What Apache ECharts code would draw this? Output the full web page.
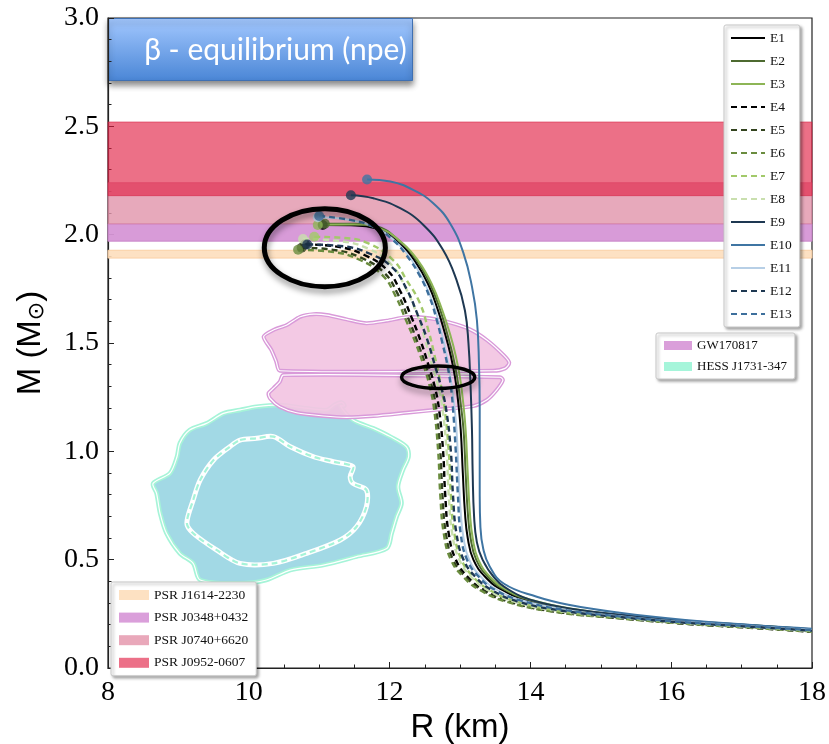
<!DOCTYPE html>
<html><head><meta charset="utf-8">
<script src="https://cdn.jsdelivr.net/npm/echarts@6/dist/echarts.min.js"></script>
<style>html,body{margin:0;padding:0;background:#fff}#c{width:829px;height:744px}</style>
</head><body><div id="c"></div>
<script>
// ---------- Mass-radius curves [R (km), M (Msun)] ----------
const E1 = [[11.05,2.045],[11.45,2.043],[11.8,2.03],[12.13,1.962],[12.36,1.878],[12.55,1.77],[12.69,1.648],[12.79,1.54],[12.87,1.44],[12.93,1.34],[12.97,1.24],[13.01,1.10],[13.04,0.90],[13.07,0.72],[13.11,0.60],[13.19,0.50],[13.36,0.42],[13.6,0.36],[13.97,0.31],[14.6,0.268],[15.3,0.24],[16.2,0.214],[17.2,0.193],[18.0,0.176]];
const E2 = [[11.08,2.05],[11.5,2.05],[11.8,2.04],[12.15,1.968],[12.38,1.883],[12.57,1.776],[12.72,1.652],[12.82,1.54],[12.9,1.44],[12.96,1.34],[13.0,1.245],[13.05,1.10],[13.08,0.90],[13.11,0.72],[13.15,0.60],[13.23,0.50],[13.4,0.42],[13.64,0.36],[14.0,0.312],[14.62,0.27],[15.3,0.242],[16.2,0.216],[17.2,0.195],[18.0,0.177]];
const E3 = [[10.98,2.045],[11.5,2.047],[11.85,2.03],[12.18,1.962],[12.41,1.878],[12.6,1.772],[12.75,1.65],[12.86,1.54],[12.94,1.44],[13.0,1.34],[13.04,1.24],[13.08,1.10],[13.11,0.90],[13.14,0.72],[13.18,0.60],[13.26,0.50],[13.43,0.42],[13.67,0.36],[14.03,0.313],[14.64,0.271],[15.3,0.243],[16.2,0.217],[17.2,0.196],[18.0,0.178]];
const E4 = [[10.80,1.955],[11.25,1.945],[11.65,1.905],[11.97,1.835],[12.15,1.74],[12.31,1.62],[12.44,1.51],[12.55,1.40],[12.64,1.30],[12.70,1.20],[12.76,1.00],[12.79,0.80],[12.84,0.62],[12.94,0.50],[13.11,0.42],[13.34,0.36],[13.72,0.306],[14.38,0.26],[15.3,0.23],[16.2,0.205],[17.2,0.185],[18.0,0.168]];
const E5 = [[10.75,1.94],[11.2,1.93],[11.6,1.893],[11.93,1.822],[12.11,1.73],[12.27,1.61],[12.40,1.50],[12.51,1.40],[12.60,1.30],[12.66,1.20],[12.72,1.00],[12.75,0.80],[12.80,0.62],[12.90,0.50],[13.08,0.42],[13.31,0.36],[13.69,0.306],[14.35,0.26],[15.3,0.229],[16.2,0.204],[17.2,0.184],[18.0,0.167]];
const E6 = [[10.70,1.93],[11.15,1.922],[11.58,1.883],[11.90,1.812],[12.08,1.72],[12.24,1.60],[12.37,1.50],[12.48,1.40],[12.57,1.30],[12.63,1.20],[12.69,1.00],[12.72,0.80],[12.77,0.62],[12.87,0.50],[13.05,0.42],[13.28,0.36],[13.66,0.306],[14.32,0.26],[15.27,0.229],[16.2,0.205],[17.2,0.185],[18.0,0.168]];
const E7 = [[10.93,1.99],[11.35,1.985],[11.7,1.96],[12.05,1.883],[12.24,1.791],[12.43,1.684],[12.55,1.56],[12.64,1.44],[12.72,1.32],[12.78,1.20],[12.84,1.00],[12.87,0.80],[12.92,0.62],[13.02,0.50],[13.19,0.42],[13.42,0.36],[13.8,0.306],[14.45,0.262],[15.3,0.233],[16.2,0.208],[17.2,0.188],[18.0,0.171]];
const E8 = [[10.77,1.98],[11.25,1.972],[11.7,1.935],[12.03,1.86],[12.22,1.76],[12.38,1.64],[12.50,1.52],[12.60,1.40],[12.69,1.30],[12.75,1.20],[12.81,1.00],[12.84,0.80],[12.89,0.62],[12.99,0.50],[13.16,0.42],[13.39,0.36],[13.77,0.306],[14.42,0.262],[15.3,0.232],[16.2,0.207],[17.2,0.187],[18.0,0.17]];
const E9 = [[11.45,2.182],[11.77,2.168],[12.15,2.122],[12.48,2.045],[12.76,1.929],[12.95,1.791],[13.07,1.65],[13.12,1.50],[13.15,1.30],[13.17,1.10],[13.18,0.90],[13.2,0.70],[13.24,0.58],[13.32,0.50],[13.48,0.42],[13.7,0.36],[14.05,0.31],[14.65,0.27],[15.4,0.242],[16.2,0.218],[17.2,0.196],[18.0,0.179]];
const E10 = [[11.68,2.255],[12.01,2.245],[12.34,2.206],[12.62,2.145],[12.86,2.052],[13.05,1.914],[13.17,1.76],[13.24,1.606],[13.27,1.40],[13.28,1.20],[13.28,1.00],[13.28,0.80],[13.29,0.65],[13.33,0.55],[13.42,0.47],[13.62,0.39],[14.09,0.329],[14.56,0.291],[15.27,0.255],[16.2,0.222],[17.2,0.197],[18.0,0.181]];
const E11 = [[10.98,2.08],[11.4,2.07],[11.78,2.035],[12.08,1.97],[12.3,1.89],[12.48,1.79],[12.62,1.68],[12.72,1.57],[12.8,1.46],[12.86,1.35],[12.91,1.24],[12.95,1.10],[12.98,0.90],[13.01,0.72],[13.05,0.60],[13.13,0.50],[13.3,0.42],[13.53,0.36],[13.9,0.31],[14.55,0.266],[15.3,0.238],[16.2,0.212],[17.2,0.192],[18.0,0.175]];
const E12 = [[10.83,1.955],[11.3,1.948],[11.72,1.912],[12.05,1.845],[12.24,1.75],[12.40,1.63],[12.53,1.52],[12.64,1.40],[12.73,1.30],[12.80,1.20],[12.87,1.00],[12.90,0.80],[12.95,0.62],[13.05,0.50],[13.22,0.42],[13.45,0.36],[13.83,0.306],[14.48,0.263],[15.3,0.234],[16.2,0.209],[17.2,0.189],[18.0,0.172]];
const E13 = [[11.0,2.086],[11.44,2.068],[11.77,2.037],[12.05,1.975],[12.24,1.905],[12.43,1.81],[12.57,1.71],[12.67,1.606],[12.75,1.50],[12.82,1.40],[12.87,1.30],[12.9,1.20],[12.94,1.00],[12.97,0.80],[13.01,0.62],[13.1,0.50],[13.27,0.42],[13.5,0.36],[13.88,0.31],[14.52,0.266],[15.3,0.237],[16.2,0.211],[17.2,0.191],[18.0,0.174]];

const curveNames = ['E1','E2','E3','E4','E5','E6','E7','E8','E9','E10','E11','E12','E13'];
const curveData = [E1,E2,E3,E4,E5,E6,E7,E8,E9,E10,E11,E12,E13];
const curveColors = ['#000000','#4d6a30','#8db556','#000000','#33441f','#6a8c3e','#a2c96a','#c9dfae','#1e3852','#3f75a3','#b7cfe6','#1e3852','#3d6f9c'];
const curveDashed = [false,false,false,true,true,true,true,true,false,false,false,true,true];

// ---------- Pulsar mass bands ----------
const psrNames = ['PSR J1614-2230','PSR J0348+0432','PSR J0740+6620','PSR J0952-0607'];
const psrLow  = [1.892, 1.97, 2.05, 2.18];
const psrHigh = [1.928, 2.05, 2.24, 2.52];
const psrLegendColors = ['#fde1c2','#da9fda','#e9a8ba','#ec7088'];
const psrFill = ['rgba(253,222,188,0.9)','rgba(214,150,214,0.95)','rgba(226,150,172,0.82)','rgba(225,29,65,0.63)'];
const psrEdge = ['rgba(250,205,160,0.9)','rgba(200,130,200,0.9)','rgba(215,120,150,0.6)','rgba(215,40,75,0.6)'];

// ---------- GW170817 and HESS J1731-347 contours [R, M] ----------
const gwUpper = [[10.21,1.529],[10.35,1.560],[10.54,1.583],[10.73,1.621],[10.92,1.633],[11.11,1.629],[11.39,1.609],[11.67,1.591],[11.96,1.603],[12.24,1.619],[12.57,1.614],[12.86,1.594],[13.14,1.563],[13.38,1.514],[13.62,1.444],[13.70,1.409],[13.64,1.383],[13.47,1.372],[10.44,1.372],[10.39,1.414],[10.32,1.468]];
const gwLower = [[10.49,1.352],[13.57,1.342],[13.61,1.329],[13.52,1.283],[13.38,1.237],[13.19,1.209],[12.72,1.194],[12.24,1.178],[11.77,1.163],[11.39,1.157],[11.06,1.163],[10.68,1.178],[10.44,1.206],[10.30,1.245],[10.28,1.268],[10.35,1.291],[10.44,1.321]];
const hessOuter = [[11.30,1.209],[11.48,1.145],[11.77,1.106],[12.01,1.068],[12.24,1.021],[12.27,0.975],[12.19,0.914],[12.12,0.837],[12.17,0.760],[12.10,0.698],[12.03,0.622],[11.96,0.552],[11.53,0.514],[11.06,0.475],[10.59,0.452],[10.25,0.406],[9.875,0.391],[9.31,0.406],[9.21,0.483],[9.02,0.529],[8.83,0.622],[8.74,0.714],[8.69,0.806],[8.64,0.852],[8.88,0.899],[8.98,0.975],[9.02,1.037],[9.16,1.098],[9.40,1.129],[9.64,1.175],[9.875,1.191],[10.11,1.206],[10.44,1.214],[10.82,1.199],[11.11,1.191],[11.22,1.215],[11.32,1.226],[11.36,1.21]];
const hessInner = [[9.875,1.052],[10.11,1.060],[10.35,1.068],[10.59,1.021],[10.92,0.975],[11.20,0.952],[11.48,0.929],[11.44,0.883],[11.48,0.852],[11.67,0.822],[11.67,0.744],[11.53,0.652],[11.30,0.591],[10.82,0.529],[10.35,0.483],[9.875,0.483],[9.54,0.545],[9.21,0.622],[9.12,0.668],[9.21,0.775],[9.31,0.868],[9.50,0.960],[9.73,1.021]];

// ---------- Annotation ellipses: [R centre, M centre, R half-width, M half-height] ----------
const ellipses = [[11.08,1.94,0.86,0.18],[12.69,1.342,0.52,0.052]];
const ellipseWidths = [5,3.5];

const chart = echarts.init(document.getElementById('c'), null, {renderer:'canvas'});

const series = [];
psrNames.forEach((n,i)=>{
  series.push({
    type:'custom', name:n, coordinateSystem:'cartesian2d', z:1, silent:true,
    itemStyle:{color:psrLegendColors[i], borderColor:psrEdge[i]},
    data:[[psrLow[i], psrHigh[i]]],
    encode:{x:0,y:1},
    renderItem:(params, api)=>{
      const a = api.coord([8, api.value(1)]);
      const b = api.coord([18, api.value(0)]);
      return {type:'rect', shape:{x:a[0], y:a[1], width:b[0]-a[0], height:b[1]-a[1]},
        style:{fill:psrFill[i], stroke:psrEdge[i], lineWidth:1}};
    }
  });
});
series.push({
  type:'custom', name:'HESS J1731-347', z:2, silent:true,
  itemStyle:{color:'#a5f5da'},
  data:[[10,0.8]], encode:{x:0,y:1},
  renderItem:(params, api)=>{
    const outer = hessOuter.map(p=>api.coord(p));
    const inner = hessInner.map(p=>api.coord(p));
    return {type:'group', children:[
      {type:'polygon', shape:{points:outer, smooth:0.3}, style:{fill:'#a2d9e5', stroke:'#a6f4d8', lineWidth:4.5}},
      {type:'polygon', shape:{points:outer, smooth:0.3}, style:{fill:'none', stroke:'#ffffff', lineWidth:1.2}},
      {type:'polygon', shape:{points:inner, smooth:0.3}, style:{fill:'none', stroke:'#ffffff', lineWidth:5}},
      {type:'polygon', shape:{points:inner, smooth:0.3}, style:{fill:'none', stroke:'#a6f4d8', lineWidth:2.2, lineDash:[6,4]}}
    ]};
  }
});
series.push({
  type:'custom', name:'GW170817', z:3, silent:true,
  itemStyle:{color:'#da9fda'},
  data:[[11,1.4]], encode:{x:0,y:1},
  renderItem:(params, api)=>{
    const up = gwUpper.map(p=>api.coord(p));
    const lo = gwLower.map(p=>api.coord(p));
    const mk = pts => [
      {type:'polygon', shape:{points:pts, smooth:0.25}, style:{fill:'rgba(242,196,226,0.92)', stroke:'#d99ad9', lineWidth:4}},
      {type:'polygon', shape:{points:pts, smooth:0.25}, style:{fill:'none', stroke:'#ffffff', lineWidth:1.2}}
    ];
    return {type:'group', children:[...mk(up), ...mk(lo)]};
  }
});
curveNames.forEach((n,i)=>{
  series.push({
    type:'line', name:n, data:curveData[i], symbol:'none', showSymbol:false,
    smooth:0.45, z:5, silent:true,
    itemStyle:{color:curveColors[i]},
    lineStyle:{color:curveColors[i], width:curveDashed[i]?2.4:2, type:curveDashed[i]?[6,4]:'solid'}
  });
});
series.push({
  type:'scatter', name:'_dots', z:6, silent:true, symbol:'circle', symbolSize:10,
  data: curveData.map((c,i)=>({value:c[0], itemStyle:{color:curveColors[i]}}))
});
series.push({
  type:'custom', name:'_ellipses', z:7, silent:true,
  data: ellipses, encode:{x:0,y:1},
  renderItem:(params, api)=>{
    const c = api.coord([api.value(0), api.value(1)]);
    const s = api.size([api.value(2), api.value(3)]);
    return {type:'ellipse', shape:{cx:c[0], cy:c[1], rx:s[0], ry:s[1]},
      style:{fill:'none', stroke:'#000', lineWidth:ellipseWidths[params.dataIndex],
        shadowBlur:6, shadowColor:'rgba(0,0,0,0.45)', shadowOffsetX:1, shadowOffsetY:4}};
  }
});

const serif = 'Liberation Serif';
const legendBase = {
  orient:'vertical', backgroundColor:'#fff', borderColor:'#c8c8c8', borderWidth:1, borderRadius:2,
  shadowBlur:3, shadowColor:'rgba(0,0,0,0.35)', shadowOffsetX:2, shadowOffsetY:2,
  selectedMode:false, textStyle:{fontFamily:serif, fontSize:13.5, color:'#111'}
};

const option = {
  animation:false,
  backgroundColor:'#fff',
  grid:{left:108, right:17, top:18, bottom:76, show:true, borderColor:'#222', borderWidth:1.2, outerBoundsMode:'none', containLabel:false},
  xAxis:{type:'value', min:8, max:18, interval:2,
    name:'R (km)', nameLocation:'middle', nameGap:34,
    nameTextStyle:{fontFamily:'Liberation Sans', fontSize:33, color:'#000'},
    axisLine:{show:true, lineStyle:{color:'#222', width:1.2}},
    axisTick:{show:true, inside:true, length:6, lineStyle:{color:'#222'}},
    minorTick:{show:true, splitNumber:4, length:3.5, lineStyle:{color:'#222'}},
    splitLine:{show:false},
    axisLabel:{fontFamily:serif, fontSize:28, color:'#000', margin:11}
  },
  yAxis:{type:'value', min:0, max:3, interval:0.5,
    name:'M (M{s|⊙})', nameLocation:'middle', nameGap:60, nameRotate:90,
    nameTextStyle:{fontFamily:'Liberation Sans', fontSize:33, color:'#000',
      rich:{s:{fontFamily:'DejaVu Sans', fontSize:22, color:'#000', verticalAlign:'bottom', padding:[12,0,0,0]}}},
    axisLine:{show:true, lineStyle:{color:'#222', width:1.2}},
    axisTick:{show:true, inside:true, length:6, lineStyle:{color:'#222'}},
    minorTick:{show:true, splitNumber:5, length:3.5, lineStyle:{color:'#222'}},
    splitLine:{show:false},
    axisLabel:{fontFamily:serif, fontSize:28, color:'#000', margin:9, formatter:v=>v.toFixed(1)}
  },
  legend:[
    Object.assign({}, legendBase, {data:curveNames, left:724, top:25, itemWidth:34, itemHeight:12, itemGap:9, padding:[6,8,6,6], itemStyle:{opacity:0}}),
    Object.assign({}, legendBase, {data:[{name:'GW170817',icon:'rect'},{name:'HESS J1731-347',icon:'rect'}], left:656, top:333, itemWidth:28, itemHeight:9, itemGap:8, padding:[6,8,6,8], textStyle:{fontFamily:serif, fontSize:13, color:'#111'}}),
    Object.assign({}, legendBase, {data:psrNames.map(n=>({name:n, icon:'rect'})), left:111, top:582, itemWidth:30, itemHeight:10, itemGap:8.6, padding:[6,8,6,8], textStyle:{fontFamily:serif, fontSize:13.5, color:'#111'}})
  ],
  graphic:[{
    type:'group', left:108, top:18, z:100,
    children:[
      {type:'rect', shape:{x:0, y:0, width:304, height:62},
        style:{fill:new echarts.graphic.LinearGradient(0,0,0,1,[{offset:0,color:'#a3c8ff'},{offset:1,color:'#4a86d6'}]),
          stroke:'#3f70b2', lineWidth:1, shadowBlur:6, shadowColor:'rgba(0,0,0,0.45)', shadowOffsetY:4}},
      {type:'text', x:167, y:32, style:{text:'β - equilibrium (npe)', fill:'#fff', font:'30px Lato', textAlign:'center', textVerticalAlign:'middle'}}
    ]
  }],
  series
};
chart.setOption(option);
</script></body></html>
